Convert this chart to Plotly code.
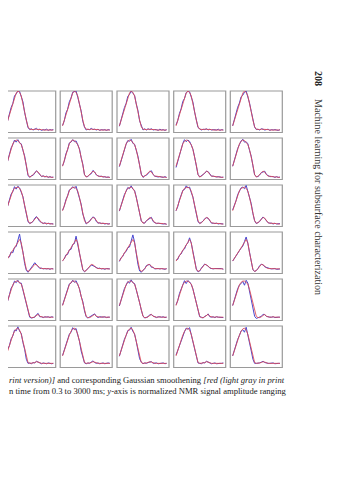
import plotly.graph_objects as go
import math

W, H = 359, 480

# T2 relaxation-time bins (ms), 0.3 to 3000 ms
T2_MS = [0.3, 0.417, 0.579, 0.804, 1.12, 1.55, 2.16, 3.0, 4.17, 5.79, 8.04, 11.2, 15.5, 21.6,
         30.0, 41.7, 57.9, 80.4, 112, 155, 216, 300, 417, 579, 804, 1117, 1551, 2154, 3000]

# Gaussian-smoothed (red) curves, one per row
RED_ROW1 = [0.16,0.30,0.45,0.58,0.72,0.85,0.95,1.00,0.97,0.88,0.72,0.50,0.30,0.14,0.08,0.07,0.07,0.08,0.08,0.07,0.07,0.07,0.06,0.06,0.07,0.06,0.06,0.06,0.06]
RED_ROW2 = [0.32,0.45,0.60,0.74,0.86,0.92,0.95,0.94,0.90,0.84,0.72,0.55,0.35,0.12,0.06,0.08,0.11,0.16,0.20,0.18,0.12,0.08,0.08,0.07,0.07,0.06,0.06,0.06,0.05]
RED_ROW3 = [0.38,0.50,0.63,0.76,0.86,0.92,0.94,0.95,0.92,0.85,0.70,0.52,0.32,0.14,0.08,0.09,0.13,0.18,0.22,0.20,0.13,0.09,0.08,0.08,0.07,0.07,0.07,0.06,0.06]
RED_ROW4 = [0.30,0.36,0.42,0.48,0.54,0.60,0.67,0.75,0.82,0.74,0.50,0.26,0.10,0.05,0.07,0.12,0.18,0.22,0.21,0.17,0.14,0.12,0.12,0.11,0.12,0.11,0.11,0.11,0.11]
RED_ROW5 = [0.36,0.50,0.64,0.76,0.86,0.92,0.95,0.95,0.92,0.88,0.75,0.60,0.44,0.24,0.10,0.07,0.07,0.09,0.13,0.15,0.10,0.08,0.08,0.08,0.09,0.08,0.08,0.08,0.08]
RED_ROW6 = [0.28,0.42,0.55,0.67,0.78,0.87,0.93,0.95,0.90,0.80,0.62,0.42,0.22,0.12,0.10,0.10,0.11,0.12,0.14,0.13,0.11,0.10,0.10,0.10,0.10,0.10,0.10,0.10,0.10]

# Raw NMR T2 distributions (blue), one per panel
BLUE_ROW1 = [
    [0.14,0.32,0.44,0.60,0.70,0.88,0.93,1.00,0.99,0.86,0.74,0.48,0.31,0.12,0.07,0.09,0.06,0.08,0.10,0.06,0.08,0.05,0.07,0.06,0.08,0.05,0.07,0.06,0.07],
    [0.17,0.28,0.47,0.56,0.74,0.83,0.97,0.98,1.00,0.85,0.70,0.52,0.27,0.13,0.06,0.08,0.07,0.10,0.07,0.08,0.06,0.08,0.05,0.07,0.06,0.07,0.05,0.07,0.06],
    [0.15,0.31,0.43,0.60,0.70,0.87,0.92,1.00,0.94,0.90,0.69,0.53,0.28,0.15,0.06,0.09,0.06,0.09,0.07,0.09,0.06,0.07,0.07,0.05,0.08,0.06,0.07,0.05,0.07],
    [0.18,0.29,0.46,0.57,0.75,0.82,0.96,0.99,0.98,0.86,0.73,0.49,0.32,0.12,0.09,0.06,0.08,0.07,0.09,0.06,0.08,0.06,0.07,0.06,0.06,0.08,0.05,0.07,0.06],
    [0.16,0.33,0.44,0.61,0.71,0.86,0.90,0.97,1.00,0.87,0.71,0.51,0.29,0.13,0.07,0.08,0.06,0.09,0.08,0.06,0.07,0.08,0.05,0.07,0.06,0.07,0.06,0.05,0.07],
]
BLUE_ROW2 = [
    [0.30,0.47,0.58,0.76,0.84,0.95,0.90,0.96,0.88,0.86,0.70,0.57,0.33,0.10,0.05,0.09,0.10,0.17,0.21,0.17,0.13,0.07,0.09,0.06,0.08,0.05,0.07,0.05,0.06],
    [0.33,0.44,0.62,0.72,0.88,0.90,0.96,0.91,0.93,0.82,0.74,0.53,0.37,0.11,0.07,0.07,0.12,0.14,0.22,0.18,0.11,0.09,0.07,0.08,0.06,0.07,0.05,0.06,0.05],
    [0.31,0.46,0.59,0.75,0.85,0.94,0.92,0.97,0.87,0.85,0.71,0.56,0.34,0.13,0.05,0.09,0.10,0.16,0.19,0.21,0.12,0.08,0.07,0.06,0.07,0.06,0.05,0.07,0.05],
    [0.29,0.45,0.61,0.73,0.87,0.96,0.91,0.95,0.92,0.83,0.73,0.54,0.36,0.12,0.06,0.08,0.12,0.15,0.20,0.19,0.13,0.08,0.08,0.07,0.06,0.07,0.06,0.05,0.06],
    [0.32,0.48,0.58,0.75,0.84,0.93,0.97,0.90,0.91,0.86,0.70,0.56,0.33,0.11,0.07,0.07,0.11,0.17,0.18,0.20,0.12,0.09,0.07,0.07,0.07,0.05,0.07,0.05,0.06],
]
BLUE_ROW3 = [
    [0.36,0.52,0.61,0.78,0.84,0.96,0.90,0.97,0.93,0.83,0.72,0.50,0.34,0.12,0.07,0.10,0.12,0.20,0.24,0.18,0.12,0.10,0.07,0.09,0.06,0.08,0.06,0.07,0.06],
    [0.39,0.49,0.65,0.74,0.88,0.90,0.96,0.92,0.97,0.84,0.69,0.54,0.30,0.15,0.06,0.10,0.12,0.19,0.23,0.21,0.12,0.08,0.09,0.07,0.08,0.06,0.07,0.06,0.07],
    [0.37,0.51,0.62,0.77,0.85,0.94,0.91,0.98,0.90,0.87,0.71,0.51,0.33,0.13,0.09,0.08,0.14,0.17,0.21,0.22,0.12,0.10,0.07,0.08,0.07,0.07,0.06,0.07,0.05],
    [0.38,0.48,0.64,0.75,0.87,0.89,0.98,0.93,0.95,0.82,0.71,0.50,0.33,0.12,0.07,0.09,0.13,0.19,0.21,0.20,0.14,0.08,0.08,0.07,0.08,0.06,0.07,0.06,0.06],
    [0.40,0.50,0.62,0.77,0.84,0.93,0.95,0.91,0.99,0.85,0.68,0.55,0.31,0.14,0.07,0.10,0.12,0.18,0.23,0.19,0.13,0.09,0.08,0.08,0.06,0.08,0.06,0.06,0.07],
]
BLUE_ROW4 = [
    [0.28,0.39,0.40,0.52,0.50,0.63,0.65,0.80,0.95,0.70,0.52,0.24,0.08,0.03,0.08,0.13,0.20,0.26,0.22,0.16,0.12,0.13,0.11,0.12,0.11,0.12,0.10,0.12,0.11],
    [0.31,0.35,0.45,0.46,0.57,0.58,0.70,0.72,0.90,0.70,0.47,0.28,0.09,0.04,0.08,0.11,0.17,0.20,0.19,0.16,0.13,0.12,0.13,0.11,0.12,0.10,0.12,0.11,0.11],
    [0.29,0.38,0.41,0.50,0.53,0.62,0.64,0.78,0.93,0.76,0.45,0.22,0.06,0.03,0.08,0.11,0.19,0.21,0.22,0.15,0.15,0.11,0.12,0.12,0.11,0.12,0.11,0.10,0.12],
    [0.32,0.34,0.44,0.47,0.56,0.59,0.69,0.74,0.86,0.73,0.53,0.27,0.11,0.04,0.06,0.13,0.17,0.23,0.20,0.18,0.13,0.12,0.11,0.12,0.12,0.11,0.11,0.12,0.10],
    [0.30,0.37,0.43,0.49,0.55,0.61,0.66,0.77,0.88,0.72,0.49,0.25,0.09,0.05,0.07,0.12,0.19,0.22,0.21,0.16,0.14,0.12,0.12,0.11,0.11,0.12,0.10,0.11,0.11],
]
BLUE_ROW5 = [
    [0.34,0.52,0.62,0.78,0.84,0.95,0.91,0.97,0.90,0.90,0.73,0.62,0.42,0.22,0.08,0.06,0.08,0.08,0.14,0.17,0.09,0.09,0.07,0.09,0.08,0.09,0.07,0.09,0.08],
    [0.37,0.49,0.66,0.74,0.88,0.90,0.97,0.92,0.96,0.86,0.77,0.58,0.46,0.23,0.09,0.06,0.08,0.10,0.12,0.16,0.10,0.07,0.09,0.08,0.08,0.09,0.07,0.08,0.08],
    [0.35,0.51,0.63,0.77,0.85,0.94,0.90,0.98,0.91,0.89,0.74,0.61,0.43,0.25,0.11,0.06,0.07,0.09,0.14,0.14,0.11,0.08,0.07,0.09,0.08,0.08,0.09,0.07,0.08],
    [0.38,0.48,0.65,0.75,0.87,0.96,0.89,0.96,0.93,0.87,0.76,0.59,0.45,0.23,0.09,0.08,0.06,0.10,0.12,0.16,0.09,0.08,0.09,0.07,0.09,0.08,0.08,0.08,0.07],
    [0.36,0.50,0.64,0.77,0.85,0.90,0.94,0.85,0.97,0.90,0.70,0.48,0.26,0.10,0.05,0.07,0.08,0.10,0.15,0.14,0.10,0.08,0.08,0.08,0.09,0.07,0.08,0.08,0.08],
]
BLUE_ROW6 = [
    [0.26,0.44,0.53,0.69,0.76,0.90,0.88,0.98,0.88,0.82,0.60,0.44,0.20,0.10,0.11,0.09,0.12,0.11,0.15,0.12,0.11,0.09,0.11,0.10,0.09,0.11,0.10,0.09,0.10],
    [0.29,0.41,0.57,0.65,0.80,0.85,0.96,0.91,0.94,0.78,0.64,0.40,0.24,0.11,0.09,0.11,0.10,0.13,0.16,0.12,0.10,0.11,0.09,0.10,0.11,0.09,0.10,0.11,0.10],
    [0.27,0.43,0.54,0.68,0.77,0.89,0.90,0.97,0.87,0.81,0.63,0.43,0.21,0.13,0.09,0.11,0.10,0.12,0.14,0.14,0.10,0.10,0.11,0.09,0.10,0.10,0.11,0.09,0.10],
    [0.30,0.41,0.56,0.66,0.79,0.86,0.95,0.92,0.96,0.79,0.61,0.41,0.23,0.11,0.10,0.09,0.12,0.11,0.15,0.13,0.12,0.09,0.10,0.11,0.09,0.10,0.10,0.10,0.11],
    [0.28,0.42,0.55,0.68,0.77,0.88,0.91,0.85,0.97,0.80,0.60,0.40,0.20,0.10,0.10,0.10,0.11,0.13,0.15,0.12,0.10,0.10,0.10,0.10,0.11,0.09,0.10,0.10,0.10],
]

RED_ROWS = [RED_ROW1, RED_ROW2, RED_ROW3, RED_ROW4, RED_ROW5, RED_ROW6]
BLUE_ROWS = [BLUE_ROW1, BLUE_ROW2, BLUE_ROW3, BLUE_ROW4, BLUE_ROW5, BLUE_ROW6]

RUNNING_HEAD_PAGE = "208"
RUNNING_HEAD = "Machine learning for subsurface characterization"
CAPTION_1 = "<i>rint version)]</i> and corresponding Gaussian smoothening <i>[red (light gray in print</i>"
CAPTION_2 = "n time from 0.3 to 3000 ms; <i>y</i>-axis is normalized NMR signal amplitude ranging"

# layout geometry (px)
COL_LEFT = [-4.3, 52.2, 109.0, 165.7, 222.3]
ROW_TOP = [83.0, 130.0, 177.0, 224.0, 271.0, 318.0]
PW, PH = 52.0, 41.5

BLUE = "#4848d0"
RED = "#e04a55"
BORDER = "#9a9a9a"

XLO = math.log10(0.3) - 0.2
XHI = math.log10(3000) + 0.2

fig = go.Figure()
layout_axes = {}
shapes = []
k = 0
for r in range(6):
    for c in range(5):
        k += 1
        xa = "x" if k == 1 else f"x{k}"
        ya = "y" if k == 1 else f"y{k}"
        left = COL_LEFT[c]
        right = left + PW
        top = ROW_TOP[r]
        bot = top + PH
        vis_left = max(left, 0.0)
        xlo = XLO + (vis_left - left) / PW * (XHI - XLO)
        layout_axes["xaxis" if k == 1 else f"xaxis{k}"] = dict(
            domain=[vis_left / W, right / W], type="log", range=[xlo, XHI],
            visible=False, anchor=ya, fixedrange=True)
        layout_axes["yaxis" if k == 1 else f"yaxis{k}"] = dict(
            domain=[1 - bot / H, 1 - top / H], range=[0, 1.0],
            visible=False, anchor=xa, fixedrange=True)
        fig.add_trace(go.Scatter(x=T2_MS, y=BLUE_ROWS[r][c], mode="lines",
                                 line=dict(color=BLUE, width=1), xaxis=xa, yaxis=ya,
                                 showlegend=False, hoverinfo="skip", cliponaxis=False))
        fig.add_trace(go.Scatter(x=T2_MS, y=RED_ROWS[r], mode="lines",
                                 line=dict(color=RED, width=1), opacity=0.85, xaxis=xa, yaxis=ya,
                                 showlegend=False, hoverinfo="skip", cliponaxis=False))
        shapes.append(dict(type="rect", xref="paper", yref="paper",
                           x0=left / W, x1=right / W, y0=1 - bot / H, y1=1 - top / H,
                           line=dict(color=BORDER, width=1.2), fillcolor="rgba(0,0,0,0)",
                           layer="below"))

annotations = [
    dict(text=f"<b>{RUNNING_HEAD_PAGE}</b>", x=311 / W, y=1 - 70 / H, xref="paper", yref="paper",
         showarrow=False, textangle=90, font=dict(family="Liberation Serif", size=10, color="#222"),
         xanchor="center", yanchor="middle"),
    dict(text=RUNNING_HEAD, x=311 / W, y=1 - 189 / H, xref="paper", yref="paper",
         showarrow=False, textangle=90, font=dict(family="Liberation Serif", size=10, color="#333"),
         xanchor="center", yanchor="middle"),
    dict(text=CAPTION_1, x=-1 / W, y=1 - 372 / H, xref="paper", yref="paper",
         showarrow=False, font=dict(family="Liberation Serif", size=8.6, color="#222"),
         xanchor="left", yanchor="middle"),
    dict(text=CAPTION_2, x=-1 / W, y=1 - 383 / H, xref="paper", yref="paper",
         showarrow=False, font=dict(family="Liberation Serif", size=8.6, color="#222"),
         xanchor="left", yanchor="middle"),
]

fig.update_layout(width=W, height=H, margin=dict(l=0, r=0, t=0, b=0),
                  paper_bgcolor="white", plot_bgcolor="white",
                  shapes=shapes, annotations=annotations, **layout_axes)

fig.write_html("out.html")
